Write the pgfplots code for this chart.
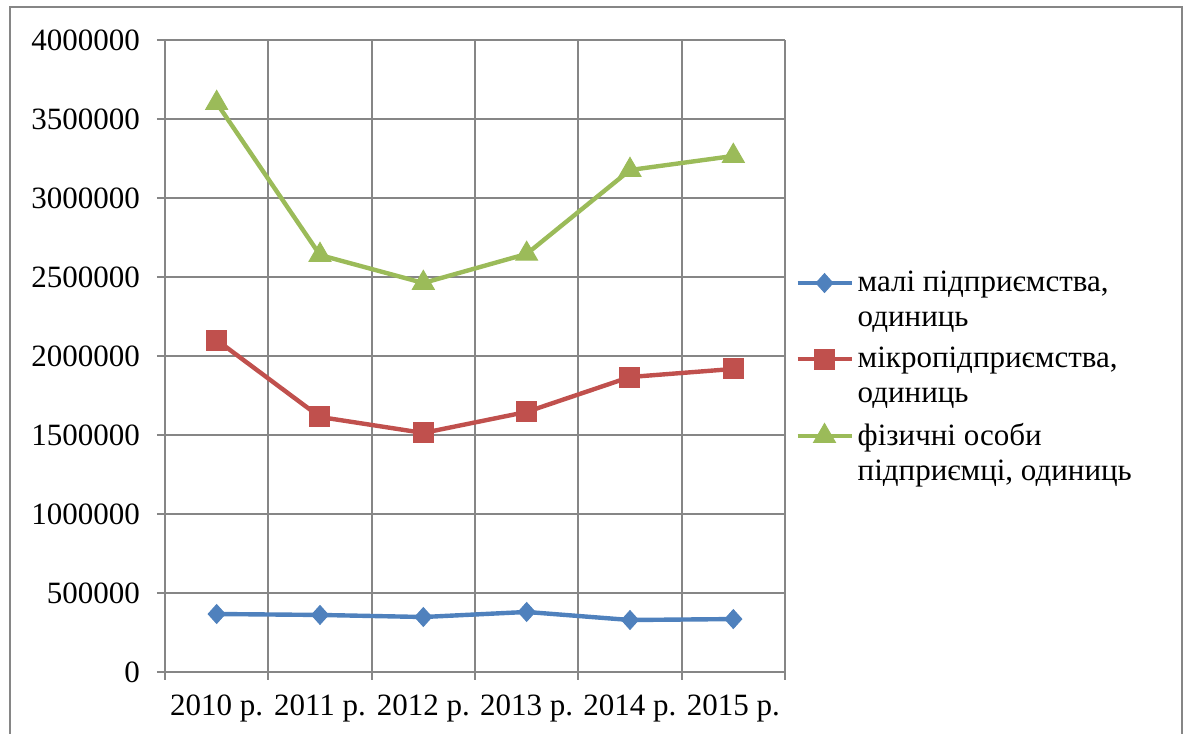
\documentclass[border=0pt]{standalone}
\usepackage{pgfplots}
\pgfplotsset{compat=1.18}
\usepackage{fontspec}
\setmainfont{Liberation Serif}
\definecolor{cblue}{HTML}{4F81BD}
\definecolor{cred}{HTML}{C0504D}
\definecolor{cgreen}{HTML}{9BBB59}
\definecolor{cgrid}{HTML}{868686}
\newcommand{\two}[2]{\vtop{\hbox{#1}\hbox{#2}}}
\begin{document}
\begin{tikzpicture}
\useasboundingbox (0,0) rectangle (595.5pt,367pt);
\draw[cgrid,line width=0.9pt] (5pt,0pt) -- (5pt,363.5pt) -- (591pt,363.5pt) -- (591pt,0pt);
\begin{axis}[
  at={(82.5pt,31pt)}, anchor=south west,
  scale only axis, width=310pt, height=316pt,
  xmin=-0.5, xmax=5.5, ymin=0, ymax=4000000,
  xtick={0,1,2,3,4,5},
  xticklabels={2010 р.,2011 р.,2012 р.,2013 р.,2014 р.,2015 р.},
  minor xtick={-0.5,0.5,1.5,2.5,3.5,4.5,5.5},
  ytick={0,500000,...,4000000},
  scaled ticks=false,
  yticklabel style={/pgf/number format/fixed,/pgf/number format/1000 sep={}},
  /pgf/number format/assume math mode=true,
  tick label style={font=\fontsize{15.5}{17.5}\selectfont},
  major x tick style={draw=none},
  tick align=outside,
  major tick length=4pt, minor tick length=4pt,
  tick style={cgrid,line width=0.9pt},
  ymajorgrids, xminorgrids,
  grid style={cgrid,line width=0.9pt},
  axis line style={cgrid,line width=0.9pt},
  axis x line*=bottom, axis y line*=left,
  xticklabel style={yshift=-4pt},
  yticklabel style={xshift=-5pt},
  legend style={at={(1.016,0.641)}, anchor=north west, draw=none, fill=none,
    inner sep=0pt, row sep=22.3pt,
    font=\fontsize{15.5}{17.5}\selectfont},
  legend cell align=left,
  legend image code/.code={\draw[mark repeat=2,mark phase=2] plot coordinates {(0pt,0pt) (13.5pt,0pt) (27pt,0pt)};},
  every axis plot/.append style={line width=2.2pt},
]
\addplot[cblue, mark=diamond*, mark size=4.7pt, mark options={solid,line width=0.5pt,xscale=1.2}] coordinates {
(0,367000) (1,361000) (2,348000) (3,380000) (4,329000) (5,335000)};
\addlegendentry{\two{малі підприємства,}{одиниць}}
\addplot[cred, mark=square*, mark size=5pt, mark options={solid,line width=0.5pt}] coordinates {
(0,2101000) (1,1614000) (2,1513000) (3,1646000) (4,1867000) (5,1918000)};
\addlegendentry{\two{мікропідприємства,}{одиниць}}
\addplot[cgreen, mark=triangle*, mark size=6.3pt, mark options={solid,line width=0.5pt}] coordinates {
(0,3601000) (1,2639000) (2,2462000) (3,2646000) (4,3177000) (5,3266000)};
\addlegendentry{\two{фізичні особи}{підприємці, одиниць}}
\end{axis}
\end{tikzpicture}
\end{document}
